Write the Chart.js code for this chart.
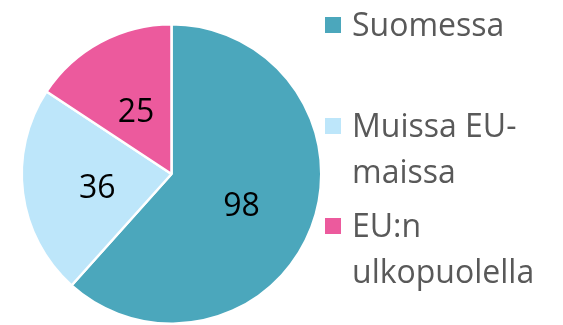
<!DOCTYPE html>
<html>
<head>
<meta charset="utf-8">
<script src="https://cdn.jsdelivr.net/npm/chart.js@4"></script>
<style>
  html, body { margin: 0; padding: 0; background: #fff; }
  #wrap { position: relative; width: 563px; height: 325px; overflow: hidden; }
  #chart { position: absolute; left: 0; top: 0; }
  .item { position: absolute; left: 325px; width: 232px; }
  .swatch { position: absolute; left: 0; top: 16px; width: 16px; height: 16px; }
  .txt { position: absolute; left: 27px; top: 0; width: 207px;
         font-family: "Open Sans", sans-serif; font-size: 32px; line-height: 46px; color: #595959; }
</style>
</head>
<body>
<div id="wrap">
  <canvas id="chart" width="563" height="325"></canvas>
  <div id="legend"></div>
</div>
<script>
// Where the people live
const categories = ["Suomessa", "Muissa EU-maissa", "EU:n ulkopuolella"];
const values = [98, 36, 25];
const colors = ["#4BA7BC", "#BDE6FA", "#EC5A9D"];

// Value labels drawn at the middle of each slice
const sliceLabels = {
  id: "sliceLabels",
  afterDatasetsDraw(chart, args, opts) {
    const ctx = chart.ctx;
    const meta = chart.getDatasetMeta(0);
    ctx.save();
    ctx.font = opts.font;
    ctx.fillStyle = opts.color;
    ctx.textAlign = "center";
    ctx.textBaseline = "middle";
    meta.data.forEach((arc, i) => {
      const p = arc.getProps(["x", "y", "startAngle", "endAngle", "outerRadius"], true);
      const mid = (p.startAngle + p.endAngle) / 2;
      const r = p.outerRadius * opts.radial[i];
      const x = p.x + Math.cos(mid) * r + opts.shift[i][0];
      const y = p.y + Math.sin(mid) * r + opts.shift[i][1];
      ctx.fillText(String(chart.data.datasets[0].data[i]), x, y);
    });
    ctx.restore();
  }
};

const chart = new Chart(document.getElementById("chart"), {
  type: "pie",
  data: {
    labels: categories,
    datasets: [{
      data: values,
      backgroundColor: colors,
      borderColor: "#ffffff",
      borderWidth: 2.5
    }]
  },
  options: {
    responsive: false,
    animation: false,
    layout: { padding: { left: 20, right: 240, top: 23, bottom: 0 } },
    plugins: {
      legend: { display: false },
      tooltip: { enabled: false },
      sliceLabels: {
        font: '32px "Open Sans", sans-serif',
        color: "#000000",
        radial: [0.5, 0.5, 0.5],
        shift: [[0, 6], [0, 5], [0, 5]]
      }
    }
  },
  plugins: [sliceLabels]
});

// HTML legend on the right
const legend = document.getElementById("legend");
categories.forEach((name, i) => {
  const item = document.createElement("div");
  item.className = "item";
  item.style.top = (1 + i * 100.5) + "px";
  const sw = document.createElement("div");
  sw.className = "swatch";
  sw.style.background = colors[i];
  const t = document.createElement("div");
  t.className = "txt";
  t.textContent = name;
  item.appendChild(sw);
  item.appendChild(t);
  legend.appendChild(item);
});
</script>
</body>
</html>
